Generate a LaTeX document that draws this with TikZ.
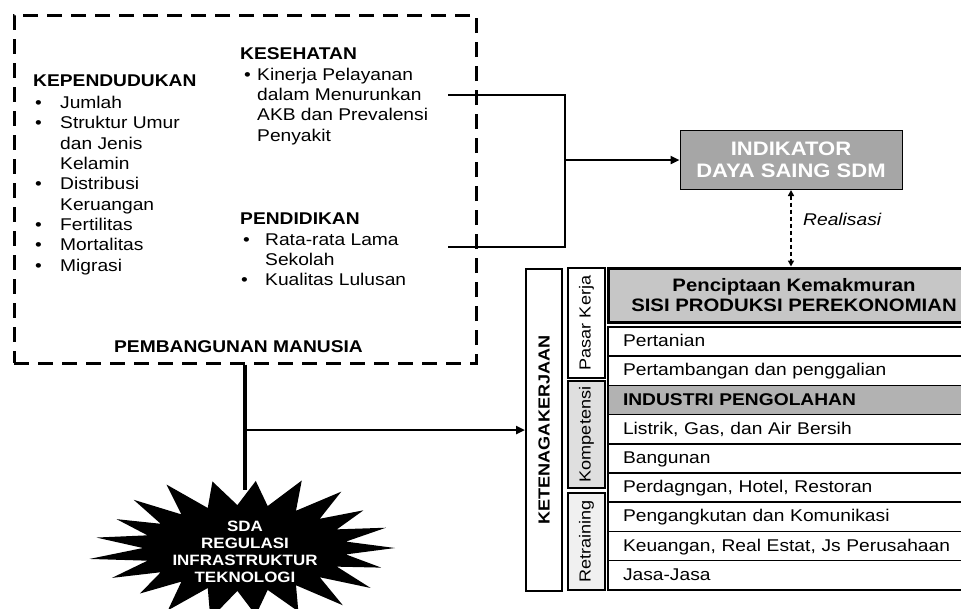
\documentclass[tikz,border=0pt]{standalone}
\usepackage{fontspec}
\setmainfont[FakeStretch=1.13]{Liberation Sans}
\usetikzlibrary{arrows.meta}

\newcommand\fsbody{\fontsize{17}{20.3}\selectfont}
\newcommand\fsvert{\fontsize{16}{19}\selectfont}
\newcommand\fshead{\fontsize{18}{20}\selectfont\bfseries}
\newcommand\fsind{\fontsize{19.5}{22}\selectfont\bfseries}
\newcommand\fsstar{\fontsize{15}{17}\selectfont\bfseries}

\begin{document}
\begin{tikzpicture}[x=1pt,y=-1pt,
  txt/.style={font=\fsbody, inner sep=0pt, align=left, anchor=north west},
  conn/.style={line width=2.6pt},
  arr/.style={-{Triangle[length=9pt,width=8pt]}},
  rowbox/.style={draw, line width=1.5pt, minimum height=29.2pt, text width=342pt,
    inner xsep=15pt, inner ysep=0pt, align=left, text height=13pt, text depth=3pt,
    font=\fsbody},
  sidebox/.style={draw, line width=2pt, rotate=90, minimum height=37pt, inner sep=0pt,
    font=\fsvert}
]
\useasboundingbox (0,0) rectangle (961,608);
\clip (0,0) rectangle (961,608);

% human development frame
\node[draw, line width=3pt, dash pattern=on 15pt off 9pt, minimum width=462pt,
  minimum height=348pt, inner sep=0pt] (pm) at (245,189) {};
\node[font=\fsbody\bfseries, anchor=base, inner sep=0pt] (pmtitle) at (238.5,352) {PEMBANGUNAN MANUSIA};

\node[txt] (kep) at (33,74.8) {{\bfseries KEPENDUDUKAN}\\[1.7pt]
  \makebox[27pt][l]{\hspace{2pt}•}Jumlah\\
  \makebox[27pt][l]{\hspace{2pt}•}Struktur Umur\\
  \hspace*{27pt}dan Jenis\\
  \hspace*{27pt}Kelamin\\
  \makebox[27pt][l]{\hspace{2pt}•}Distribusi\\
  \hspace*{27pt}Keruangan\\
  \makebox[27pt][l]{\hspace{2pt}•}Fertilitas\\
  \makebox[27pt][l]{\hspace{2pt}•}Mortalitas\\
  \makebox[27pt][l]{\hspace{2pt}•}Migrasi};

\node[txt] (kes) at (240,47.8) {{\bfseries KESEHATAN}\\
  \makebox[17pt][l]{\hspace{4pt}•}Kinerja Pelayanan\\
  \hspace*{17pt}dalam Menurunkan\\
  \hspace*{17pt}AKB dan Prevalensi\\
  \hspace*{17pt}Penyakit};

\node[txt] (pend) at (240,212.8) {{\bfseries PENDIDIKAN}\\
  \makebox[25pt][l]{\hspace{3pt}•}Rata-rata Lama\\
  \hspace*{25pt}Sekolah\\
  \makebox[25pt][l]{\hspace{1pt}•}Kualitas Lulusan};

% competitiveness indicator
\node[draw, line width=1pt, fill=gray!70, text=white, font=\fsind, align=center,
  minimum width=222pt, minimum height=59pt, inner sep=0pt] (ind) at (791,160)
  {INDIKATOR\\DAYA SAING SDM};

\coordinate (kesout) at (448,95);
\coordinate (pendout) at (448,247);
\coordinate (bj) at (565,160);
\draw[conn] (kesout) -| (bj) |- (pendout);
\draw[conn, arr] (bj) -- (ind.west);

% production side table
\node[draw, line width=3pt, fill=gray!45, font=\fshead, align=center,
  minimum width=372pt, minimum height=54pt, inner sep=0pt] (hdr) at (794,295)
  {Penciptaan Kemakmuran\\SISI PRODUKSI PEREKONOMIAN};

\draw[line width=1.6pt, dash pattern=on 4pt off 3pt,
  {Triangle[length=6pt,width=6pt]}-{Triangle[length=6pt,width=6pt]}]
  (ind.south) -- (ind.south |- hdr.north);
\node[font=\fsbody\itshape, anchor=base west, inner sep=0pt] (real) at (803,225) {Realisasi};

\node[rowbox] (r1) at (794,341.6) {Pertanian};
\node[rowbox] (r2) at (794,370.8) {Pertambangan dan penggalian};
\node[rowbox, fill=gray!60, font=\fsbody\bfseries] (r3) at (794,400.0) {INDUSTRI PENGOLAHAN};
\node[rowbox] (r4) at (794,429.2) {Listrik, Gas, dan Air Bersih};
\node[rowbox] (r5) at (794,458.4) {Bangunan};
\node[rowbox] (r6) at (794,487.6) {Perdagngan, Hotel, Restoran};
\node[rowbox] (r7) at (794,516.8) {Pengangkutan dan Komunikasi};
\node[rowbox] (r8) at (794,546.0) {Keuangan, Real Estat, Js Perusahaan};
\node[rowbox] (r9) at (794,575.2) {Jasa-Jasa};

% labour side labels (rotated: their north side faces left)
\node[sidebox, minimum width=322pt, minimum height=36pt, font=\fsvert\bfseries] (ket) at (544,430) {KETENAGAKERJAAN};
\node[sidebox, minimum width=110pt] (pasar) at (586.5,323) {Pasar Kerja};
\node[sidebox, minimum width=107pt, fill=gray!25] (komp) at (586.5,434.5) {Kompetensi};
\node[sidebox, minimum width=97pt, fill=gray!12] (retr) at (586.5,541.5) {Retraining};

% supporting factors
\coordinate (startop) at (245,490);
\coordinate (jk) at (245,430);
\draw[line width=4pt] (pm.south) -- (startop);
\draw[line width=2.8pt, arr] (jk) -- (ket.north);

\fill[black] plot[variable=\k, samples at={0,...,41}]
  ({245 + (isodd(\k) ? 102 : 150*(1+0.05*sin(\k*131))) * cos(\k*360/42)},
   {548 + (isodd(\k) ? 43 : 70*(1+0.05*sin(\k*131))) * sin(\k*360/42)}) -- cycle;
\node[font=\fsstar, text=white, align=center, inner sep=0pt] (sda) at (245,552)
  {SDA\\REGULASI\\INFRASTRUKTUR\\TEKNOLOGI};
\end{tikzpicture}
\end{document}
